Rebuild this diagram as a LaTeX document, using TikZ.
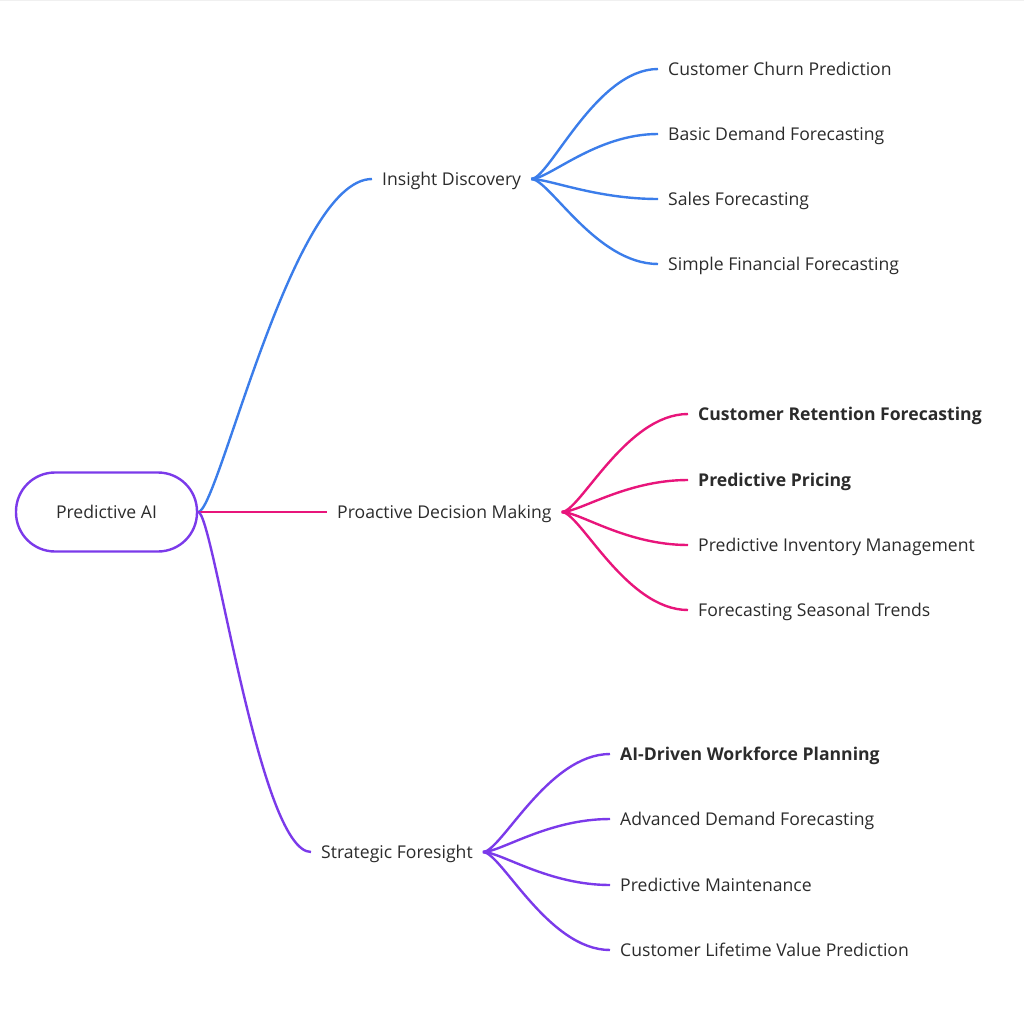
\documentclass[tikz,border=0pt]{standalone}
\usepackage{fontspec}
\setmainfont{Open Sans}
\definecolor{bleu}{HTML}{3B7DEA}
\definecolor{rose}{HTML}{E8157B}
\definecolor{violet}{HTML}{7B3AEA}
\definecolor{encre}{HTML}{2B2B2B}

\begin{document}
\begin{tikzpicture}[x=1pt, y=-1pt]
\tikzset{mot/.style={anchor=west, inner xsep=10pt, inner ysep=0pt, text height=13pt, text depth=0pt, text=encre, font=\fontsize{17.6}{20}\selectfont},
gras/.style={mot, font=\fontsize{17.6}{20}\selectfont\bfseries},
racine/.style={draw=violet, line width=2.4pt, rounded corners=39pt, minimum width=181pt, minimum height=79pt, text=encre, font=\fontsize{17.6}{20}\selectfont},
lien/.style={line width=2.4pt}}
\useasboundingbox (0,0) rectangle (1024,1024);
\draw[gray!12, line width=1pt] (0,0.5) -- (1024,0.5);
\node[racine] (R) at (106.5,512) {Predictive AI};
\node[mot] (I) at (372,179) {Insight Discovery};
\node[mot] (P) at (327,512) {Proactive Decision Making};
\node[mot] (S) at (311,852) {Strategic Foresight};
\node[mot] (I1) at (658,69) {Customer Churn Prediction};
\node[mot] (I2) at (658,134) {Basic Demand Forecasting};
\node[mot] (I3) at (658,199) {Sales Forecasting};
\node[mot] (I4) at (658,264) {Simple Financial Forecasting};
\node[gras] (P1) at (688,414) {Customer Retention Forecasting};
\node[gras] (P2) at (688,480) {Predictive Pricing};
\node[mot] (P3) at (688,545) {Predictive Inventory Management};
\node[mot] (P4) at (688,610) {Forecasting Seasonal Trends};
\node[gras] (S1) at (610,754) {AI-Driven Workforce Planning};
\node[mot] (S2) at (610,819) {Advanced Demand Forecasting};
\node[mot] (S3) at (610,885) {Predictive Maintenance};
\node[mot] (S4) at (610,950) {Customer Lifetime Value Prediction};
\draw[lien, bleu] (R.east) .. controls +(20,0) and +(-80,0) .. (I.west);
\draw[lien, rose] (R.east) -- (P.west);
\draw[lien, violet] (R.east) .. controls +(15,0) and +(-52,0) .. (S.west);
\draw[lien, bleu] (I.east) .. controls +(18,0) and +(-62,0) .. (I1.west);
\draw[lien, bleu] (I.east) .. controls +(18,0) and +(-62,0) .. (I2.west);
\draw[lien, bleu] (I.east) .. controls +(18,0) and +(-62,0) .. (I3.west);
\draw[lien, bleu] (I.east) .. controls +(18,0) and +(-62,0) .. (I4.west);
\draw[lien, rose] (P.east) .. controls +(18,0) and +(-62,0) .. (P1.west);
\draw[lien, rose] (P.east) .. controls +(18,0) and +(-62,0) .. (P2.west);
\draw[lien, rose] (P.east) .. controls +(18,0) and +(-62,0) .. (P3.west);
\draw[lien, rose] (P.east) .. controls +(18,0) and +(-62,0) .. (P4.west);
\draw[lien, violet] (S.east) .. controls +(18,0) and +(-62,0) .. (S1.west);
\draw[lien, violet] (S.east) .. controls +(18,0) and +(-62,0) .. (S2.west);
\draw[lien, violet] (S.east) .. controls +(18,0) and +(-62,0) .. (S3.west);
\draw[lien, violet] (S.east) .. controls +(18,0) and +(-62,0) .. (S4.west);
\end{tikzpicture}
\end{document}
